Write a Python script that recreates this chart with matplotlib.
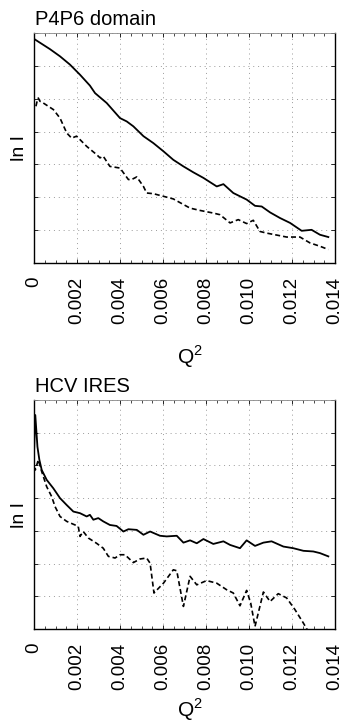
import matplotlib
matplotlib.use("Agg")
import matplotlib.pyplot as plt
from matplotlib.ticker import MultipleLocator, FixedLocator

plt.rcParams['font.family'] = ['Liberation Sans', 'DejaVu Sans']
plt.rcParams['mathtext.fontset'] = 'custom'
plt.rcParams['mathtext.rm'] = 'Liberation Sans'

# ---- data (Q^2, ln I in arbitrary units) ----
p4p6_solid_q2 = [0.00005, 0.00074, 0.00121, 0.00167, 0.00214, 0.00260, 0.00284, 0.00338,
                 0.00400, 0.00431, 0.00462, 0.00509, 0.00555, 0.00602, 0.00648, 0.00695,
                 0.00741, 0.00788, 0.00850, 0.00881, 0.00927, 0.00989, 0.01028, 0.01059,
                 0.01098, 0.01144, 0.01191, 0.01245, 0.01291, 0.01330, 0.01369]
p4p6_solid_lnI = [6.80, 6.51, 6.29, 6.04, 5.73, 5.40, 5.17, 4.87, 4.41, 4.31, 4.16, 3.86,
                  3.65, 3.40, 3.14, 2.94, 2.76, 2.59, 2.33, 2.40, 2.13, 1.93, 1.74, 1.72,
                  1.54, 1.37, 1.22, 0.98, 1.01, 0.86, 0.79]

p4p6_dash_q2 = [0.00009, 0.00016, 0.00020, 0.00028, 0.00043, 0.00090, 0.00121, 0.00152,
                0.00175, 0.00198, 0.00245, 0.00291, 0.00307, 0.00322, 0.00353, 0.00400,
                0.00439, 0.00454, 0.00478, 0.00509, 0.00524, 0.00555, 0.00602, 0.00648,
                0.00695, 0.00726, 0.00772, 0.00834, 0.00865, 0.00912, 0.00950, 0.00989,
                0.01020, 0.01051, 0.01082, 0.01129, 0.01175, 0.01237, 0.01284, 0.01330,
                0.01369]
p4p6_dash_lnI = [4.77, 4.97, 5.02, 4.92, 4.87, 4.67, 4.41, 3.96, 3.80, 3.86, 3.55, 3.30,
                 3.20, 3.25, 2.94, 2.89, 2.54, 2.54, 2.62, 2.33, 2.13, 2.11, 2.03, 1.95,
                 1.78, 1.67, 1.60, 1.52, 1.47, 1.22, 1.32, 1.20, 1.30, 0.96, 0.91, 0.85,
                 0.79, 0.79, 0.61, 0.51, 0.41]

hcv_solid_q2 = [0.0, 0.00006, 0.00016, 0.00025, 0.00036, 0.00059, 0.00090, 0.00121,
                0.00152, 0.00183, 0.00214, 0.00245, 0.00260, 0.00276, 0.00299, 0.00322,
                0.00353, 0.00384, 0.00416, 0.00439, 0.00478, 0.00509, 0.00540, 0.00586,
                0.00617, 0.00664, 0.00695, 0.00726, 0.00757, 0.00788, 0.00834, 0.00881,
                0.00912, 0.00958, 0.00989, 0.01028, 0.01067, 0.01105, 0.01160, 0.01206,
                0.01253, 0.01299, 0.01330, 0.01369]
hcv_solid_lnI = [5.37, 6.54, 5.57, 5.17, 4.86, 4.56, 4.30, 4.00, 3.79, 3.59, 3.54, 3.44,
                 3.49, 3.34, 3.39, 3.29, 3.18, 3.15, 2.98, 3.05, 3.03, 2.88, 2.98, 2.85,
                 2.83, 2.85, 2.64, 2.71, 2.62, 2.75, 2.60, 2.68, 2.57, 2.47, 2.71, 2.54,
                 2.64, 2.68, 2.52, 2.47, 2.39, 2.37, 2.32, 2.22]

hcv_dash_q2 = [0.0, 0.00006, 0.00020, 0.00036, 0.00059, 0.00082, 0.00098, 0.00121,
               0.00152, 0.00191, 0.00206, 0.00214, 0.00229, 0.00253, 0.00291, 0.00322,
               0.00346, 0.00377, 0.00400, 0.00423, 0.00462, 0.00493, 0.00524, 0.00540,
               0.00558, 0.00602, 0.00648, 0.00664, 0.00695, 0.00726, 0.00757, 0.00803,
               0.00850, 0.00896, 0.00927, 0.00958, 0.00989, 0.01008, 0.01028, 0.01067,
               0.01098, 0.01136, 0.01175, 0.01214, 0.01253, 0.01284]
hcv_dash_lnI = [4.96, 4.86, 5.17, 4.81, 4.35, 4.05, 3.74, 3.44, 3.29, 3.18, 3.13, 2.83,
                2.98, 2.78, 2.62, 2.47, 2.22, 2.17, 2.27, 2.27, 2.03, 2.14, 2.17, 2.01,
                1.10, 1.40, 1.81, 1.78, 0.69, 1.61, 1.35, 1.48, 1.40, 1.20, 1.10, 0.71,
                1.18, 0.79, 0.08, 1.13, 0.84, 1.08, 0.95, 0.59, 0.18, -0.17]

xticks = [0, 0.002, 0.004, 0.006, 0.008, 0.010, 0.012, 0.014]
xticklabels = ['0', '0.002', '0.004', '0.006', '0.008', '0.010', '0.012', '0.014']
titles = ['P4P6 domain', 'HCV IRES']

W, H = 347, 727
fig = plt.figure(figsize=(W / 100, H / 100), dpi=100)

def px_axes(left, top, right, bottom):
    return fig.add_axes([left / W, 1 - bottom / H, (right - left) / W, (bottom - top) / H])

panels = [
    (px_axes(34, 33, 335, 263), p4p6_solid_q2, p4p6_solid_lnI, p4p6_dash_q2, p4p6_dash_lnI, 33, 263, 357),
    (px_axes(34, 400, 335, 629), hcv_solid_q2, hcv_solid_lnI, hcv_dash_q2, hcv_dash_lnI, 400, 629, 710),
]

for i, (ax, sx, sy, dx, dy, top, bot, qy) in enumerate(panels):
    ax.plot(sx, sy, color='black', lw=1.3, solid_joinstyle='round')
    ax.plot(dx, dy, color='black', lw=1.2, linestyle=(0, (3, 1.8)))
    ax.set_xlim(0, 0.014)
    ax.set_ylim(0, 7)
    ax.xaxis.set_major_locator(FixedLocator(xticks))
    ax.set_xticklabels(xticklabels, rotation=90, fontsize=13.5)
    ax.xaxis.set_minor_locator(MultipleLocator(0.0005))
    ax.yaxis.set_major_locator(MultipleLocator(1))
    ax.set_yticklabels([])
    ax.tick_params(axis='both', which='both', direction='in', top=True, right=True)
    ax.tick_params(axis='both', which='major', length=3, width=0.6)
    ax.tick_params(axis='both', which='minor', length=2, width=0.5)
    ax.tick_params(axis='x', which='major', pad=10)
    ax.grid(True, which='major', color='#9a9a9a', linestyle=(0, (1, 4)), linewidth=0.7)
    for s in ['left', 'bottom', 'right']:
        ax.spines[s].set_linewidth(1.0)
    ax.spines['top'].set_color('#888888')
    ax.spines['top'].set_linewidth(0.6)
    ax.set_title(titles[i], loc='left', fontsize=14.5, pad=6, x=0.003)
    fig.text(20 / W, 1 - (top + bot) / 2 / H, 'ln I',
             rotation=90, ha='center', va='center', fontsize=14)
    fig.text(190 / W, 1 - qy / H, r'$\mathrm{Q}^{2}$', ha='center', va='center', fontsize=15)

fig.savefig('out.png', dpi=100)
